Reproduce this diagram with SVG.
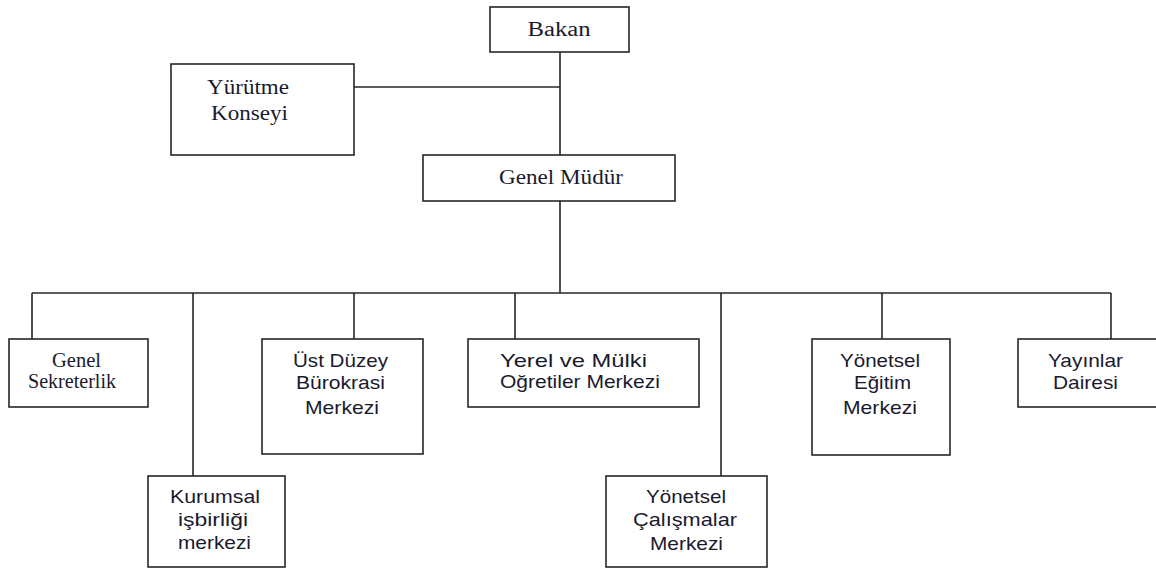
<svg xmlns="http://www.w3.org/2000/svg" width="1156" height="569" viewBox="0 0 1156 569">
  <style>
    .box { fill: #ffffff; stroke: #262626; stroke-width: 1.6; }
    .link { fill: none; stroke: #262626; stroke-width: 1.6; }
    .serif { font-family: "Liberation Serif", "Times New Roman", serif; font-size: 20px; fill: #1a1a2e; text-anchor: middle; }
    .sans { font-family: "Liberation Sans", Arial, sans-serif; font-size: 19px; fill: #1a1a2e; text-anchor: middle; }
  </style>

  <rect width="1156" height="569" fill="#ffffff"/>

  <!-- connectors -->
  <g id="connectors">
    <path class="link" d="M560 52 V155"/>
    <path class="link" d="M354 87 H560"/>
    <path class="link" d="M560 201 V293"/>
    <path class="link" d="M32 293 H1111"/>
    <path class="link" d="M32 293 V339"/>
    <path class="link" d="M193 293 V476"/>
    <path class="link" d="M354 293 V339"/>
    <path class="link" d="M515 293 V339"/>
    <path class="link" d="M721 293 V476"/>
    <path class="link" d="M882 293 V339"/>
    <path class="link" d="M1111 293 V339"/>
  </g>

  <g id="bakan">
    <rect class="box" x="490" y="7" width="139" height="45"/>
    <text class="serif" x="559" y="36" textLength="63" lengthAdjust="spacingAndGlyphs">Bakan</text>
  </g>

  <g id="yurutme-konseyi">
    <rect class="box" x="171" y="64" width="183" height="91"/>
    <text class="serif" x="248" y="94" textLength="82" lengthAdjust="spacingAndGlyphs">Yürütme</text>
    <text class="serif" x="249.5" y="120" textLength="77" lengthAdjust="spacingAndGlyphs">Konseyi</text>
  </g>

  <g id="genel-mudur">
    <rect class="box" x="423" y="155" width="252" height="46"/>
    <text class="serif" x="561" y="184" textLength="124" lengthAdjust="spacingAndGlyphs">Genel Müdür</text>
  </g>

  <g id="genel-sekreterlik">
    <rect class="box" x="9" y="339" width="139" height="68"/>
    <text class="serif" x="76.5" y="367" textLength="49" lengthAdjust="spacingAndGlyphs">Genel</text>
    <text class="serif" x="72" y="388" textLength="88" lengthAdjust="spacingAndGlyphs">Sekreterlik</text>
  </g>

  <g id="kurumsal-isbirligi">
    <rect class="box" x="148" y="476" width="137" height="91"/>
    <text class="sans" x="215" y="503" textLength="90" lengthAdjust="spacingAndGlyphs">Kurumsal</text>
    <text class="sans" x="213" y="526" textLength="70" lengthAdjust="spacingAndGlyphs">işbirliği</text>
    <text class="sans" x="214.5" y="549" textLength="73" lengthAdjust="spacingAndGlyphs">merkezi</text>
  </g>

  <g id="ust-duzey-burokrasi">
    <rect class="box" x="262" y="339" width="161" height="115"/>
    <text class="sans" x="340.5" y="367" textLength="95" lengthAdjust="spacingAndGlyphs">Üst Düzey</text>
    <text class="sans" x="340.5" y="389" textLength="89" lengthAdjust="spacingAndGlyphs">Bürokrasi</text>
    <text class="sans" x="342" y="414" textLength="74" lengthAdjust="spacingAndGlyphs">Merkezi</text>
  </g>

  <g id="yerel-mulki">
    <rect class="box" x="468" y="339" width="231" height="68"/>
    <text class="sans" x="573.5" y="367" textLength="147" lengthAdjust="spacingAndGlyphs">Yerel ve Mülki</text>
    <text class="sans" x="580" y="388" textLength="160" lengthAdjust="spacingAndGlyphs">Oğretiler Merkezi</text>
  </g>

  <g id="yonetsel-calismalar">
    <rect class="box" x="606" y="476" width="161" height="91"/>
    <text class="sans" x="686" y="503" textLength="80" lengthAdjust="spacingAndGlyphs">Yönetsel</text>
    <text class="sans" x="685" y="526" textLength="104" lengthAdjust="spacingAndGlyphs">Çalışmalar</text>
    <text class="sans" x="686.5" y="550" textLength="73" lengthAdjust="spacingAndGlyphs">Merkezi</text>
  </g>

  <g id="yonetsel-egitim">
    <rect class="box" x="812" y="339" width="138" height="116"/>
    <text class="sans" x="880" y="367" textLength="80" lengthAdjust="spacingAndGlyphs">Yönetsel</text>
    <text class="sans" x="882.5" y="389" textLength="57" lengthAdjust="spacingAndGlyphs">Eğitim</text>
    <text class="sans" x="880" y="414" textLength="74" lengthAdjust="spacingAndGlyphs">Merkezi</text>
  </g>

  <g id="yayinlar-dairesi">
    <rect class="box" x="1018" y="339" width="145" height="68"/>
    <text class="sans" x="1085.5" y="367" textLength="75" lengthAdjust="spacingAndGlyphs">Yayınlar</text>
    <text class="sans" x="1085.5" y="389" textLength="65" lengthAdjust="spacingAndGlyphs">Dairesi</text>
  </g>
</svg>
